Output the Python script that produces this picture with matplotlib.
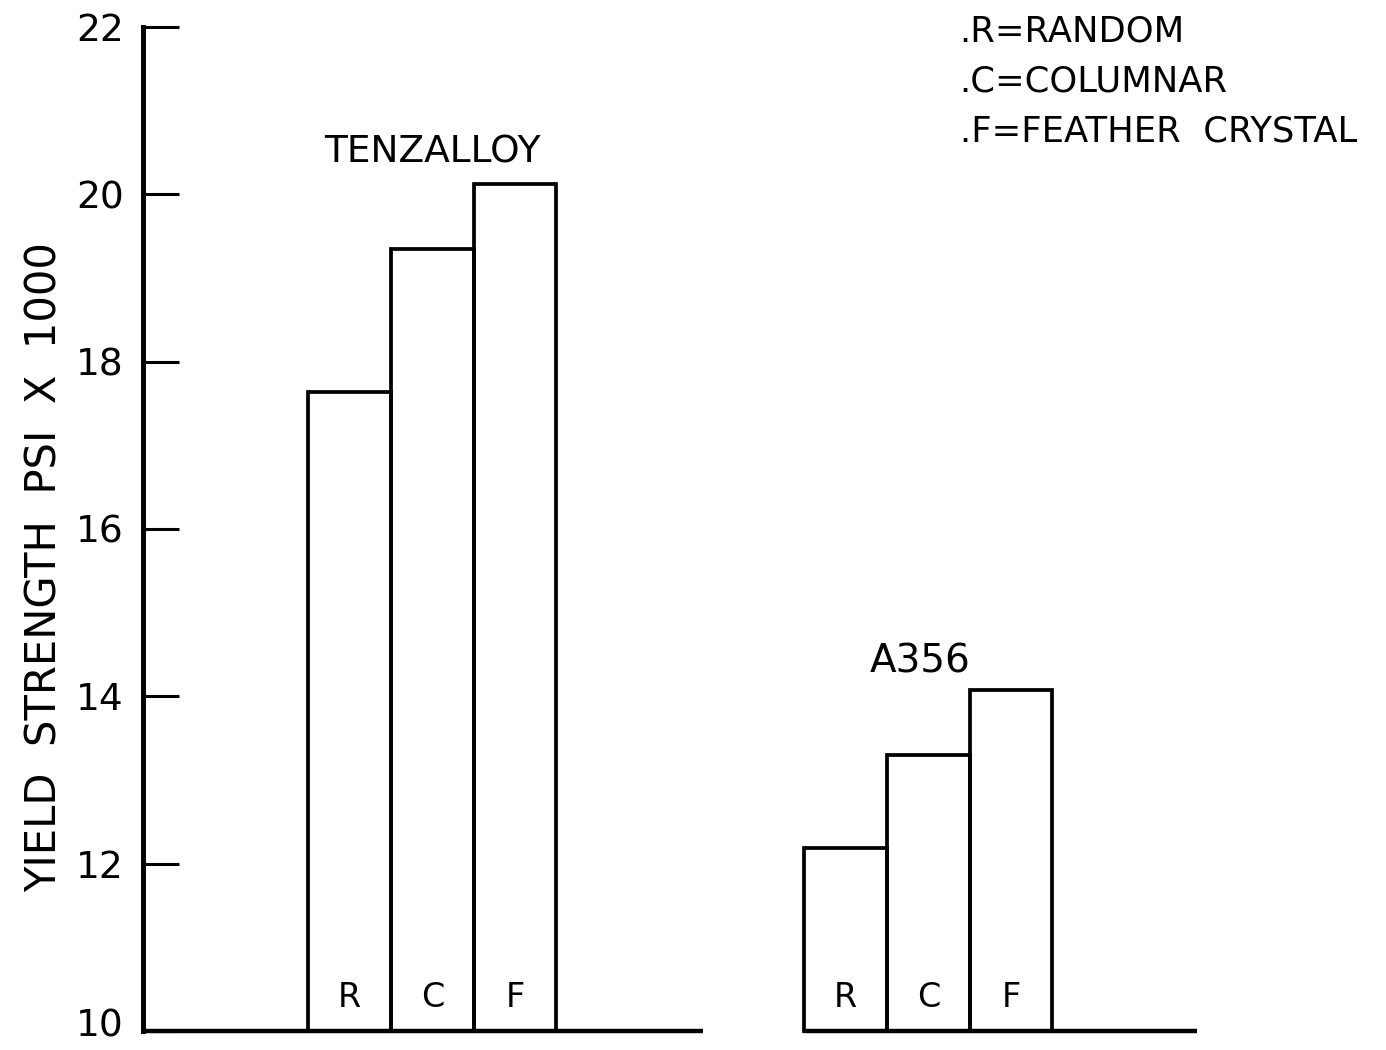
import numpy as np
import matplotlib
matplotlib.use('Agg')
from matplotlib import pyplot as plt
from matplotlib.transforms import ScaledTranslation

# yield strength, psi x 1000
structures = ['R', 'C', 'F']
tenzalloy = [17.64, 19.35, 20.12]
a356 = [12.19, 13.30, 14.08]
y_ticks = [10, 12, 14, 16, 18, 20, 22]
legend_lines = ['.R=RANDOM', '.C=COLUMNAR', '.F=FEATHER  CRYSTAL']

plt.rcParams['font.family'] = ['DejaVu Sans']

fig = plt.figure(figsize=(13.86, 10.5), dpi=100)
ax = fig.add_axes([0.1032, 0.0181, 0.7604, 0.9562])

x_tenz = np.arange(len(structures)) + 2
x_a356 = np.arange(len(structures)) + 8
base = 10

for xs, vals in [(x_tenz, tenzalloy), (x_a356, a356)]:
    ax.bar(xs, np.array(vals) - base, bottom=base, width=1, align='edge',
           fill=False, edgecolor='black', linewidth=2.7, clip_on=False)
    for x, s in zip(xs, structures):
        ax.text(x + 0.5, 10.4, s, ha='center', va='center', fontsize=24)

# broken baseline
ax.hlines(base, 0, 6.77, color='black', linewidth=3.2, clip_on=False)
ax.hlines(base, 7.98, 12.75, color='black', linewidth=3.2, clip_on=False)

ax.text(3.5, 20.5, 'TENZALLOY', ha='center', va='center', fontsize=27)
ax.text(9.4, 14.42, 'A356', ha='center', va='center', fontsize=28)

for i, line in enumerate(legend_lines):
    ax.text(9.88, 21.95 - i * 0.6, line, ha='left', va='center', fontsize=25.5)

ax.set_xlim(0, 12.75)
ax.set_ylim(10, 22)
ax.set_yticks(y_ticks)
ax.set_yticklabels([str(t) for t in y_ticks], fontsize=27)
ax.set_xticks([])
ax.tick_params(axis='y', direction='in', length=26, width=2.2, pad=14)
for side in ['top', 'right', 'bottom']:
    ax.spines[side].set_visible(False)
ax.spines['left'].set_linewidth(3.6)
ax.patch.set_alpha(0)

# nudge the bottom label up so it stays inside the figure
lab = ax.get_yticklabels()[0]
lab.set_transform(lab.get_transform() + ScaledTranslation(0, 6 / 72, fig.dpi_scale_trans))

fig.text(45 / 1386, 1 - 567 / 1050, 'YIELD  STRENGTH  PSI  X  1000',
         rotation=90, ha='center', va='center', fontsize=30)

fig.savefig('out.png', dpi=100)
